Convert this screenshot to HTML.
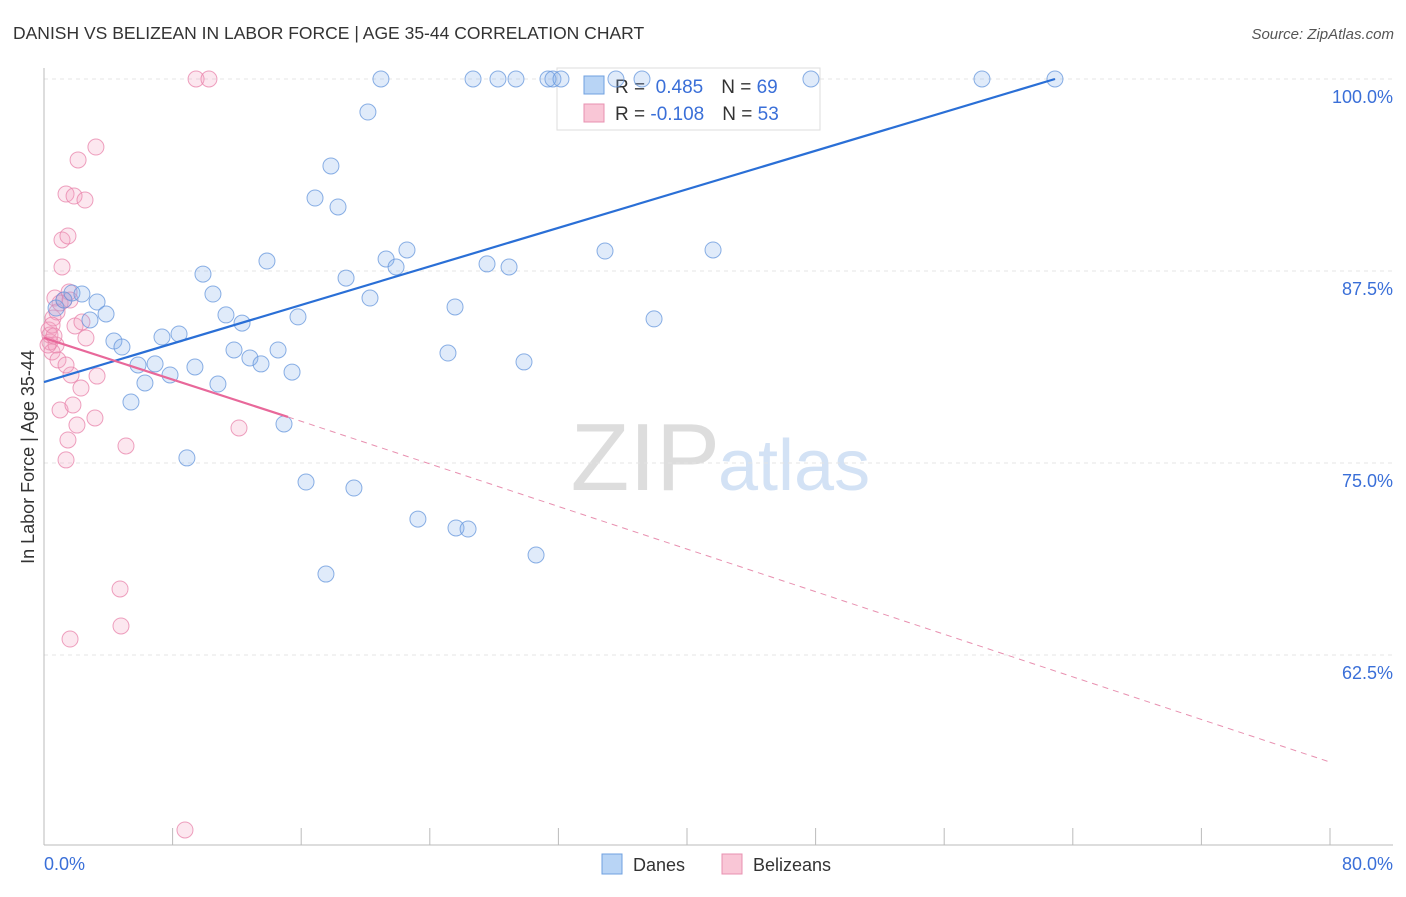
<!DOCTYPE html>
<html><head><meta charset="utf-8"><style>
body{margin:0;background:#fff;font-family:"Liberation Sans",sans-serif;}
svg text{font-family:"Liberation Sans",sans-serif;}
</style></head><body>
<svg id="chart" width="1406" height="892">
<text x="13" y="39" font-size="17.5" fill="#333">DANISH VS BELIZEAN IN LABOR FORCE | AGE 35-44 CORRELATION CHART</text>
<text x="1394" y="39" font-size="15" fill="#555" text-anchor="end" font-style="italic">Source: ZipAtlas.com</text>
<text x="720" y="490" font-size="96" fill="#ddd" text-anchor="end" font-family="Liberation Serif">ZIP</text>
<text x="718" y="490" font-size="72" fill="#d3e2f5">atlas</text>
<g id="grid"></g><g id="axes"></g>
<g>
<rect x="557" y="68" width="263" height="62" fill="#fff" stroke="#ddd"/>
<rect x="584" y="76" width="20" height="18" fill="#b8d4f5" stroke="#6fa0e0"/>
<rect x="584" y="104" width="20" height="18" fill="#f9c6d6" stroke="#e890b0"/>
<text x="615" y="93" font-size="19" fill="#333">R = <tspan fill="#3a6fd8">&#160;0.485</tspan><tspan dx="18">N = </tspan><tspan fill="#3a6fd8">69</tspan></text>
<text x="615" y="120" font-size="19" fill="#333">R = <tspan fill="#3a6fd8">-0.108</tspan><tspan dx="18">N = </tspan><tspan fill="#3a6fd8">53</tspan></text>
</g>
<g id="marks"></g>
<text transform="translate(34,457) rotate(-90)" font-size="18" fill="#333" text-anchor="middle">In Labor Force | Age 35-44</text>
<text x="44" y="870" font-size="18" fill="#3a6fd8">0.0%</text>
<text x="1393" y="870" font-size="18" fill="#3a6fd8" text-anchor="end">80.0%</text>
<g>
<rect x="602" y="854" width="20" height="20" fill="#b8d4f5" stroke="#6fa0e0"/>
<text x="633" y="871" font-size="18" fill="#333">Danes</text>
<rect x="722" y="854" width="20" height="20" fill="#f9c6d6" stroke="#e890b0"/>
<text x="753" y="871" font-size="18" fill="#333">Belizeans</text>
</g>
</svg>
<script>
const yTicks=[100,87.5,75,62.5];
const yTickLabels=["100.0%","87.5%","75.0%","62.5%"];
const xTicks=[0,8,16,24,32,40,48,56,64,72,80];
const danesX=[0.75,1.24,1.74,2.36,2.86,3.30,3.86,4.35,4.85,5.41,5.85,6.28,6.91,7.34,7.84,8.40,8.89,9.39,9.89,10.51,10.82,11.32,11.82,12.32,12.81,13.50,13.87,14.56,14.93,15.43,15.80,16.30,16.86,17.54,17.85,18.29,18.79,19.28,20.15,20.28,20.96,21.28,21.90,22.58,23.26,25.13,25.57,25.63,26.38,26.69,27.56,28.24,28.93,29.36,29.86,30.61,31.35,31.66,32.16,34.90,35.58,37.20,37.95,41.62,47.71,58.35,62.89];
const danesY=[85.09,85.61,86.07,86.00,84.31,85.48,84.70,82.94,82.55,78.97,81.38,80.21,81.45,83.20,80.73,83.40,75.33,81.25,87.30,86.00,80.14,84.64,82.36,84.11,81.84,81.45,88.15,82.36,77.54,80.92,84.51,73.76,92.25,67.77,94.34,91.67,87.04,73.37,97.85,85.74,100,88.28,87.76,88.87,71.35,82.16,85.16,70.77,70.70,100,87.96,100,87.76,100,81.58,69.01,100,100,100,88.80,100,100,84.38,88.87,100,100,100];
const belX=[0.31,0.37,0.50,0.56,0.68,0.81,0.87,0.75,1.00,1.12,1.12,1.24,1.37,1.37,1.49,1.49,1.56,1.62,1.68,1.80,1.87,1.93,2.05,2.12,2.30,2.36,2.55,2.61,3.17,3.23,3.30,4.73,4.79,5.10,8.77,9.46,10.26,12.13,0.37,0.50,1.00,1.37,1.62,0.25,0.62];
const belY=[83.66,82.88,82.23,84.44,85.74,84.83,81.71,82.68,78.45,89.52,87.76,85.61,75.20,92.51,89.78,76.50,86.13,63.54,80.73,78.78,92.38,83.92,77.47,94.73,79.88,84.18,92.12,83.14,77.93,95.57,80.66,66.80,64.39,76.11,51.11,100,100,77.28,83.33,83.98,85.42,81.38,85.61,82.68,83.27];
const danesTrend=[[0,80.27],[62.89,100]];
const belTrendSolid=[[0,83.14],[15.18,78.0]];
const belTrendDash=[[15.18,78.0],[80,55.53]];
const sx=v=>44+v*16.075, sy=v=>79+(100-v)*15.36;
const NS="http://www.w3.org/2000/svg";
function mk(tag,attrs,parent){const e=document.createElementNS(NS,tag);for(const k in attrs)e.setAttribute(k,attrs[k]);document.getElementById(parent).appendChild(e);return e;}
yTicks.forEach((t,i)=>{
 const g=mk('line',{x1:44,x2:1393,y1:sy(t),y2:sy(t),stroke:'#e4e4e4','stroke-dasharray':'4,4'},'grid');
 
 
 const l=mk('text',{x:1393,y:sy(t)+24,'font-size':18,fill:'#3a6fd8','text-anchor':'end'},'grid');
 l.textContent=yTickLabels[i];
 
 
});
const ax=mk('line',{x1:44,x2:44,y1:68,y2:845,stroke:'#bbb'},'axes');


const bx=mk('line',{x1:44,x2:1393,y1:845,y2:845,stroke:'#bbb'},'axes');


xTicks.forEach(t=>{
 const k=mk('line',{x1:sx(t),x2:sx(t),y1:828,y2:845,stroke:'#bbb'},'axes');
 
 
});
belX.forEach((x,i)=>{
 const c=mk('circle',{cx:sx(x),cy:sy(belY[i]),r:8,fill:'rgba(244,160,190,0.25)',stroke:'rgba(232,130,170,0.75)','stroke-width':1},'marks');
 
 
});
danesX.forEach((x,i)=>{
 const c=mk('circle',{cx:sx(x),cy:sy(danesY[i]),r:8,fill:'rgba(130,175,235,0.25)',stroke:'rgba(100,150,220,0.75)','stroke-width':1},'marks');
 
 
});
const t1=mk('line',{x1:sx(danesTrend[0][0]),y1:sy(danesTrend[0][1]),x2:sx(danesTrend[1][0]),y2:sy(danesTrend[1][1]),stroke:'#2a6fd6','stroke-width':2.2},'marks');


const t2=mk('line',{x1:sx(belTrendSolid[0][0]),y1:sy(belTrendSolid[0][1]),x2:sx(belTrendSolid[1][0]),y2:sy(belTrendSolid[1][1]),stroke:'#e8689a','stroke-width':2.2},'marks');


const t3=mk('line',{x1:sx(belTrendDash[0][0]),y1:sy(belTrendDash[0][1]),x2:sx(belTrendDash[1][0]),y2:sy(belTrendDash[1][1]),stroke:'#e890b0','stroke-width':1,'stroke-dasharray':'6,5'},'marks');


</script>
</body></html>
